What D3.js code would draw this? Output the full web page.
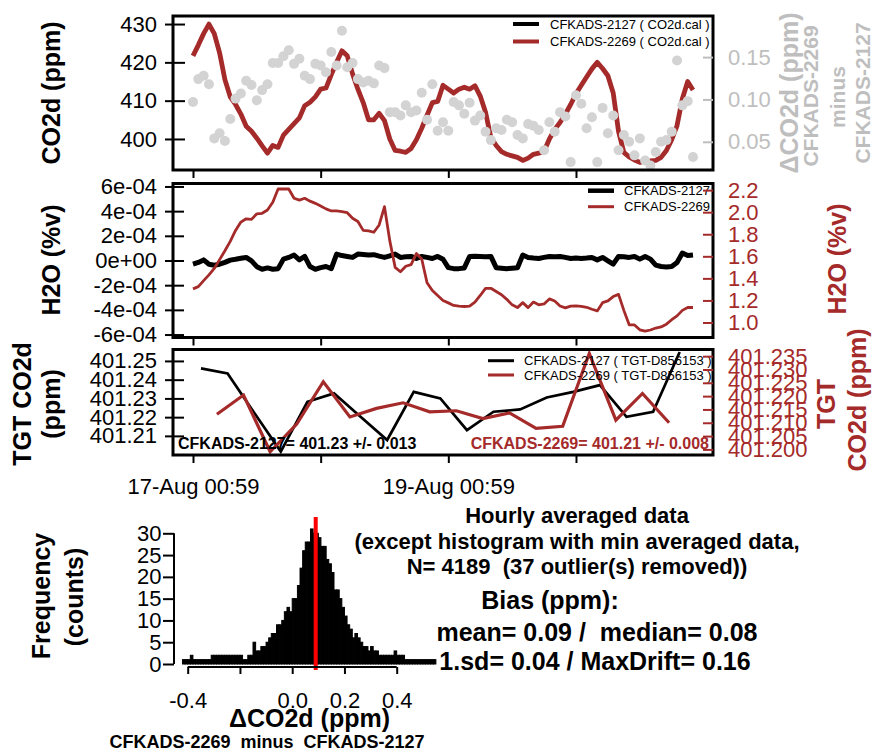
<!DOCTYPE html>
<html>
<head>
<meta charset="utf-8">
<script src="https://cdn.jsdelivr.net/npm/d3@7/dist/d3.min.js"></script>
<style>
  body { margin: 0; background: #fff; }
  svg { display: block; }
  svg text { font-family: "Liberation Sans", Arial, Helvetica, sans-serif; white-space: pre; }
</style>
</head>
<body>
<svg id="chart" width="872" height="751"></svg>
<script>
// ---------------------------------------------------------------- data
const startTime = "2020-08-17T00:59:00Z";           // first hourly average
const dayTicks = ["2020-08-17T00:59:00Z", "2020-08-18T00:59:00Z",
                  "2020-08-19T00:59:00Z", "2020-08-20T00:59:00Z"];
const dayTickLabelled = [true, false, true, false];

// hourly CO2d (ppm), CFKADS-2269 (CO2d.cal)
const co2_2269 = [
  421.7,424.5,427.5,430.0,427.5,422.5,415.5,411.0,409.0,406.5,
  403.3,402.0,400.2,398.2,396.3,398.3,397.8,401.0,402.5,404.0,
  405.5,408.7,409.6,411.0,413.0,413.3,416.8,420.0,423.0,421.7,
  417.0,413.0,409.5,405.0,405.0,406.7,404.8,400.0,397.0,396.8,
  396.5,397.5,399.8,402.8,406.2,409.5,409.8,414.0,413.0,412.0,
  413.0,413.5,413.0,413.9,411.2,407.0,400.4,398.3,396.7,396.0,
  395.6,395.2,394.4,395.0,396.0,396.3,396.8,400.0,402.5,404.3,
  406.5,409.0,411.8,414.0,416.2,418.3,420.0,418.4,416.5,412.0,
  402.0,396.5,395.3,394.5,393.9,394.2,394.3,394.4,395.2,397.0,
  399.8,403.5,410.5,415.0,412.8];

// hourly ΔCO2d (ppm), CFKADS-2269 minus CFKADS-2127
const deltaCO2 = [
  0.097,0.124,0.128,0.118,0.054,0.060,0.051,0.077,0.101,0.107,
  0.122,0.117,0.099,0.111,0.118,0.143,0.143,0.151,0.158,0.142,
  0.148,0.128,0.124,0.142,0.140,0.132,0.156,0.140,0.181,0.138,
  0.143,0.124,0.120,0.122,0.119,0.140,0.137,0.085,0.085,0.081,
  0.093,0.085,0.087,0.108,0.076,0.118,0.063,0.073,0.063,0.097,
  0.093,0.083,0.096,0.075,0.081,0.062,0.052,0.066,0.064,0.076,
  0.073,0.058,0.054,0.071,0.069,0.064,0.040,0.073,0.062,0.085,
  0.080,0.026,0.105,0.095,0.066,0.079,0.026,0.090,0.060,0.081,
  0.040,0.058,0.050,0.034,0.054,0.028,0.022,0.038,0.050,0.052,
  0.062,0.146,0.093,0.098,0.032];

// hourly H2O (%v), CFKADS-2127 (left axis)
const h2o_2127 = [
  -3.0e-5,-1.6e-5, 0.5e-5,-3.0e-5,-3.8e-5,-3.0e-5,-1.5e-5, 0.3e-5, 1.0e-5, 1.8e-5,
   2.5e-5,-0.3e-5,-5.0e-5,-7.1e-5,-6.0e-5,-7.1e-5,-6.6e-5, 1.1e-5, 2.5e-5, 4.4e-5,
   0.5e-5, 3.3e-5,-4.9e-5,-7.1e-5,-5.8e-5,-4.9e-5,-6.6e-5, 5.2e-5, 4.0e-5, 3.3e-5,
   2.5e-5, 5.2e-5, 4.8e-5, 4.4e-5, 4.7e-5, 3.5e-5, 2.5e-5, 3.8e-5, 5.2e-5, 2.5e-5,
   3.0e-5, 3.3e-5, 1.6e-5, 3.3e-5, 2.5e-5, 1.6e-5, 3.3e-5, 1.0e-5,-5.8e-5,-6.6e-5,
  -6.6e-5,-6.0e-5, 3.3e-5, 3.5e-5, 3.3e-5, 3.0e-5, 3.3e-5,-5.8e-5,-6.2e-5,-6.6e-5,
  -6.2e-5,-5.8e-5, 4.4e-5, 2.5e-5, 2.0e-5, 1.6e-5, 2.5e-5, 3.3e-5, 3.0e-5, 3.3e-5,
   2.5e-5, 1.6e-5, 2.0e-5, 1.6e-5, 2.0e-5, 2.5e-5, 0.5e-5, 2.5e-5,-0.3e-5,-3.0e-5,
   3.3e-5, 3.0e-5, 2.5e-5, 3.3e-5, 1.1e-5, 3.3e-5, 1.1e-5,-3.8e-5,-4.9e-5,-5.2e-5,
  -4.9e-5,-1.6e-5, 6.0e-5, 4.0e-5, 4.4e-5];

// hourly H2O (%v), CFKADS-2269 (right axis)
const h2o_2269 = [
  1.305,1.325,1.380,1.432,1.490,1.570,1.650,1.735,1.835,1.910,
  1.940,1.935,1.985,1.990,2.020,2.090,2.210,2.210,2.210,2.126,
  2.110,2.126,2.100,2.080,2.055,2.030,2.011,2.011,2.006,1.995,
  1.945,1.915,1.835,1.830,1.818,1.884,2.050,1.740,1.500,1.460,
  1.510,1.525,1.625,1.575,1.360,1.290,1.245,1.200,1.178,1.155,
  1.148,1.145,1.148,1.185,1.245,1.310,1.310,1.281,1.252,1.210,
  1.160,1.135,1.180,1.135,1.185,1.160,1.168,1.214,1.195,1.150,
  1.132,1.148,1.151,1.146,1.138,1.120,1.105,1.180,1.196,1.235,
  1.255,1.110,0.979,0.978,0.934,0.922,0.932,0.950,0.960,0.985,
  1.025,1.060,1.110,1.136,1.136];

// target tank (TGT-D856153) measurements: hours after start, CO2d (ppm)
const tgtHours_2127 = [1.5,6.5,11.5,16.5,21.5,26.5,31.5,36.5,41.5,46.5,
                       51.5,56.5,61.5,66.5,71.5,76.5,81.5,86.5,91.5];
const tgt_2127 = [401.2460,401.2433,401.2224,401.2016,401.2282,401.2327,401.2202,
                  401.2078,401.2335,401.2300,401.2131,401.2229,401.2241,401.2305,
                  401.2335,401.2371,401.2202,401.2229,401.2548];
const tgtHours_2269 = [4.5,9.5,14.5,19.5,24.5,29.5,34.5,39.5,44.5,49.5,
                       54.5,59.5,64.5,69.5,74.5,79.5,84.5,89.5];
const tgt_2269 = [401.2132,401.2204,401.1991,401.2095,401.2254,401.2122,401.2154,
                  401.2175,401.2141,401.2145,401.2116,401.2137,401.2079,401.2087,
                  401.2360,401.2110,401.2210,401.2100];

// histogram of minute ΔCO2d (ppm): bins of 0.01 starting at -0.42
const histStart = -0.42, histBin = 0.01;
const histCounts = [
  1,1,1,2,1,1,1,1,1,1,
  1,2,2,2,2,2,2,2,2,2,
  2,2,2,1,1,2,2,5,3,3,
  4,4,5,6,7,7,9,9,10,12,
  13,12,15,15,18,22,26,28,28,31,
  30,30,29,27,27,24,23,21,17,17,
  15,13,11,9,8,6,7,6,5,4,
  4,3,4,3,3,2,2,2,2,2,
  2,3,2,2,2,1,1,1,1,1,
  1,1,1,1,1,1,1];
const biasMean = 0.09;

const co2Ticks = [400, 410, 420, 430];
const deltaTicks = [0.05, 0.10, 0.15];
const h2oTicks = [-6e-4, -4e-4, -2e-4, 0, 2e-4, 4e-4, 6e-4];
const h2oTickLabels = ["-6e-04", "-4e-04", "-2e-04", "0e+00", "2e-04", "4e-04", "6e-04"];
const h2oAbsTicks = [1.0, 1.2, 1.4, 1.6, 1.8, 2.0, 2.2];
const tgtTicks = [401.21, 401.22, 401.23, 401.24, 401.25];
const tgtRightTicks = [401.200, 401.205, 401.210, 401.215, 401.220, 401.225, 401.230, 401.235];
const histTicks = [-0.4, -0.2, 0.0, 0.2, 0.4];
const histTickLabels = ["-0.4", "", "0.0", "0.2", "0.4"];
const countTicks = [0, 5, 10, 15, 20, 25, 30];

// ---------------------------------------------------------------- setup
const BROWN = "#a52a2a", GREY_TXT = "#bebebe", GREY_PT = "#d3d3d3";
const svg = d3.select("#chart");
const L = 173, R = 713;
const P1 = {top: 16, bottom: 170}, P2 = {top: 183.5, bottom: 337.5}, P3 = {top: 349.5, bottom: 455};

const t0 = d3.isoParse(startTime);
const atHour = h => new Date(t0.getTime() + h * 3600e3);
const nHours = co2_2269.length - 1;
const x = d3.scaleUtc()
  .domain([atHour(-0.04 * nHours), atHour(1.04 * nHours)])
  .range([L, R]);
const dayDates = dayTicks.map(d3.isoParse);
const fmtDay = d3.utcFormat("%d-%b %H:%M");

function styleAxis(g, color, size) {
  g.select(".domain").remove();
  g.attr("font-family", null).attr("font-size", size);
  g.selectAll(".tick line").attr("stroke", color).attr("stroke-width", 2);
  g.selectAll(".tick text").attr("fill", color);
}

function leftAxis(scale, ticks, fmt, inner) {
  const g = svg.append("g").attr("transform", `translate(${L},0)`)
    .call(d3.axisLeft(scale).tickValues(ticks).tickSize(8).tickPadding(8).tickFormat(fmt));
  styleAxis(g, "#000", 22);
  if (inner) {
    const gi = svg.append("g").attr("transform", `translate(${L},0)`)
      .call(d3.axisLeft(scale).tickValues(ticks).tickSize(-inner).tickFormat(""));
    styleAxis(gi, "#000", 22);
  }
}

function rightAxis(scale, ticks, fmt, color) {
  const g = svg.append("g").attr("transform", `translate(${R},0)`)
    .call(d3.axisRight(scale).tickValues(ticks).tickSize(-10).tickPadding(15).tickFormat(fmt));
  styleAxis(g, color, 22);
}

function timeAxis(p, labelled) {
  const g = svg.append("g").attr("transform", `translate(0,${p.bottom})`)
    .call(d3.axisBottom(x).tickValues(dayDates).tickSize(8).tickPadding(15)
      .tickFormat((d, i) => labelled && dayTickLabelled[i] ? fmtDay(d) : ""));
  styleAxis(g, "#000", 22);
}

function box(p) {
  svg.append("rect").attr("x", L).attr("y", p.top)
    .attr("width", R - L).attr("height", p.bottom - p.top)
    .attr("fill", "none").attr("stroke", "#000").attr("stroke-width", 3);
}

function vTitle(bx, cy, text, size, color) {
  svg.append("text").attr("transform", `translate(${bx},${cy}) rotate(-90)`)
    .attr("text-anchor", "middle").attr("font-size", size).attr("font-weight", "bold")
    .attr("fill", color).text(text);
}

function legend(items, lx, tx, size) {
  items.forEach(it => {
    svg.append("line").attr("x1", lx).attr("x2", lx + 26).attr("y1", it.y).attr("y2", it.y)
      .attr("stroke", it.color).attr("stroke-width", it.w);
    svg.append("text").attr("x", tx).attr("y", it.y + 4.5).attr("font-size", size)
      .attr("fill", "#000").text(it.label);
  });
}

// ---------------------------------------------------------------- panel 1: CO2d
const y1 = d3.scaleLinear().domain([391.9, 432.1]).range([P1.bottom, P1.top]);
const y1r = d3.scaleLinear().domain([0.0167, 0.1985]).range([P1.bottom, P1.top]);

svg.append("path").datum(co2_2269)
  .attr("d", d3.line().x((d, i) => x(atHour(i))).y(d => y1(d)))
  .attr("fill", "none").attr("stroke", BROWN).attr("stroke-width", 4.8).attr("stroke-linejoin", "round");

svg.append("g").selectAll("circle").data(deltaCO2).join("circle")
  .attr("cx", (d, i) => x(atHour(i))).attr("cy", d => y1r(d)).attr("r", 5)
  .attr("fill", GREY_PT);

legend([
  {y: 24, color: "#000", w: 4, label: "CFKADS-2127 ( CO2d.cal )"},
  {y: 41.5, color: BROWN, w: 4, label: "CFKADS-2269 ( CO2d.cal )"}
], 513, 550, 13);

box(P1);
leftAxis(y1, co2Ticks, d3.format("d"), 12);
rightAxis(y1r, deltaTicks, d3.format(".2f"), GREY_TXT);
timeAxis(P1, false);
vTitle(60, 93, "CO2d (ppm)", 25, "#000");
vTitle(798, 93, "ΔCO2d (ppm)", 25, GREY_TXT);
vTitle(818, 96, "CFKADS-2269", 21, GREY_TXT);
vTitle(845, 97, "minus", 21, GREY_TXT);
vTitle(870, 93, "CFKADS-2127", 21, GREY_TXT);

// ---------------------------------------------------------------- panel 2: H2O
const y2 = d3.scaleLinear().domain([-6.24e-4, 6.24e-4]).range([P2.bottom, P2.top]);
const y2r = d3.scaleLinear().domain([0.864, 2.26]).range([P2.bottom, P2.top]);

svg.append("path").datum(h2o_2127)
  .attr("d", d3.line().x((d, i) => x(atHour(i))).y(d => y2(d)))
  .attr("fill", "none").attr("stroke", "#000").attr("stroke-width", 5).attr("stroke-linejoin", "round");
svg.append("path").datum(h2o_2269)
  .attr("d", d3.line().x((d, i) => x(atHour(i))).y(d => y2r(d)))
  .attr("fill", "none").attr("stroke", BROWN).attr("stroke-width", 2.8).attr("stroke-linejoin", "round");

legend([
  {y: 190.7, color: "#000", w: 4.5, label: "CFKADS-2127"},
  {y: 206.7, color: BROWN, w: 3, label: "CFKADS-2269"}
], 588, 624, 13);

box(P2);
leftAxis(y2, h2oTicks, (d, i) => h2oTickLabels[i], 11);
rightAxis(y2r, h2oAbsTicks, d3.format(".1f"), BROWN);
timeAxis(P2, false);
vTitle(60, 260, "H2O (%v)", 25, "#000");
vTitle(846, 259, "H2O (%v)", 25, BROWN);

// ---------------------------------------------------------------- panel 3: target tank
const y3 = d3.scaleLinear().domain([401.1998, 401.2561]).range([P3.bottom, P3.top]);
const y3r = d3.scaleLinear().domain([401.1979, 401.2375]).range([P3.bottom, P3.top]);

svg.append("path").datum(tgt_2127)
  .attr("d", d3.line().x((d, i) => x(atHour(tgtHours_2127[i]))).y(d => y3(d)))
  .attr("fill", "none").attr("stroke", "#000").attr("stroke-width", 2.7);
svg.append("path").datum(tgt_2269)
  .attr("d", d3.line().x((d, i) => x(atHour(tgtHours_2269[i]))).y(d => y3r(d)))
  .attr("fill", "none").attr("stroke", BROWN).attr("stroke-width", 3.2);

legend([
  {y: 360.7, color: "#000", w: 3, label: "CFKADS-2127 ( TGT-D856153 )"},
  {y: 375, color: BROWN, w: 3, label: "CFKADS-2269 ( TGT-D856153 )"}
], 488, 524, 13);

svg.append("text").attr("x", 178).attr("y", 449).attr("font-size", 16).attr("font-weight", "bold")
  .attr("fill", "#000").text(`CFKADS-2127= ${d3.mean(tgt_2127).toFixed(2)} +/- 0.013`);
svg.append("text").attr("x", 709).attr("y", 449).attr("font-size", 16).attr("font-weight", "bold")
  .attr("text-anchor", "end").attr("fill", BROWN)
  .text(`CFKADS-2269= ${d3.mean(tgt_2269).toFixed(2)} +/- 0.008`);

box(P3);
leftAxis(y3, tgtTicks, d3.format(".2f"), 11);
rightAxis(y3r, tgtRightTicks, d3.format(".3f"), BROWN);
timeAxis(P3, true);
vTitle(31, 404, "TGT CO2d", 25, "#000");
vTitle(60, 404, "(ppm)", 25, "#000");
vTitle(835, 404, "TGT", 25, BROWN);
vTitle(866, 400, "CO2d (ppm)", 25, BROWN);

// ---------------------------------------------------------------- histogram
const hx = d3.scaleLinear().domain([-0.4, 0.4]).range([187.7, 396.7]);
const hy = d3.scaleLinear().domain([0, 30]).range([664, 533.3]);

svg.append("g").selectAll("rect").data(histCounts).join("rect")
  .attr("x", (d, i) => hx(histStart + i * histBin))
  .attr("width", (d, i) => hx(histStart + (i + 1) * histBin) - hx(histStart + i * histBin))
  .attr("y", d => hy(d)).attr("height", d => hy(0) - hy(d))
  .attr("fill", "#000").attr("stroke", "#000").attr("stroke-width", 1);

svg.append("line").attr("x1", hx(biasMean)).attr("x2", hx(biasMean))
  .attr("y1", 517).attr("y2", 670).attr("stroke", "#ff0000").attr("stroke-width", 4);

// y axis
svg.append("line").attr("x1", 174).attr("x2", 174).attr("y1", hy(0)).attr("y2", hy(30))
  .attr("stroke", "#000").attr("stroke-width", 2);
const gy = svg.append("g").attr("transform", "translate(174,0)")
  .call(d3.axisLeft(hy).tickValues(countTicks).tickSize(11).tickPadding(1.5).tickFormat(d3.format("d")));
styleAxis(gy, "#000", 22);

// x axis
svg.append("line").attr("x1", hx(histTicks[0])).attr("x2", hx(histTicks[histTicks.length - 1]))
  .attr("y1", 667).attr("y2", 667).attr("stroke", "#000").attr("stroke-width", 2);
const gx = svg.append("g").attr("transform", "translate(0,667)")
  .call(d3.axisBottom(hx).tickValues(histTicks).tickSize(7).tickPadding(18)
    .tickFormat((d, i) => histTickLabels[i]));
styleAxis(gx, "#000", 22);

svg.append("text").attr("x", 309.5).attr("y", 727).attr("text-anchor", "middle")
  .attr("font-size", 25).attr("font-weight", "bold").text("ΔCO2d (ppm)");
svg.append("text").attr("x", 267).attr("y", 748).attr("text-anchor", "middle")
  .attr("font-size", 18).attr("font-weight", "bold").text("CFKADS-2269  minus  CFKADS-2127");
vTitle(50, 596, "Frequency", 25, "#000");
vTitle(83, 597, "(counts)", 25, "#000");

// ---------------------------------------------------------------- summary text
const notes = [
  {x: 577, y: 523, s: 22, t: "Hourly averaged data"},
  {x: 577, y: 549, s: 22, t: "(except histogram with min averaged data,"},
  {x: 577, y: 574, s: 22, t: "N= 4189  (37 outlier(s) removed))"},
  {x: 550, y: 609, s: 25, t: "Bias (ppm):"},
  {x: 597, y: 641, s: 25, t: `mean= ${biasMean.toFixed(2)} /  median= 0.08`},
  {x: 595, y: 670, s: 25, t: "1.sd= 0.04 / MaxDrift= 0.16"}
];
svg.append("g").selectAll("text").data(notes).join("text")
  .attr("x", d => d.x).attr("y", d => d.y).attr("text-anchor", "middle")
  .attr("font-size", d => d.s).attr("font-weight", "bold").attr("fill", "#000")
  .text(d => d.t);
</script>
</body>
</html>
